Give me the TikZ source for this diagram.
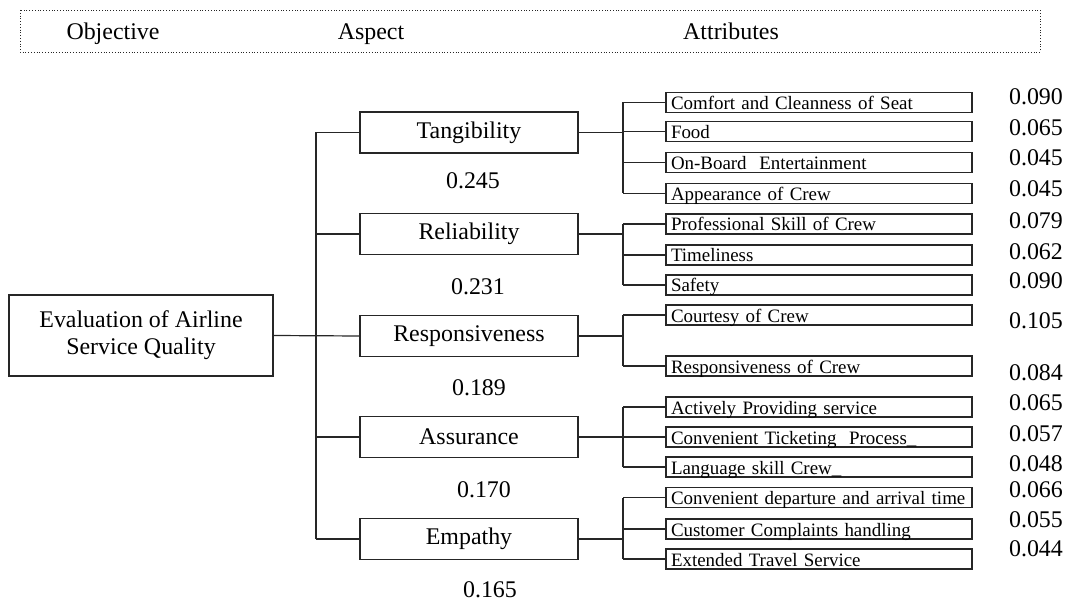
\documentclass[tikz,border=0pt]{standalone}
\usepackage{fontspec}
\setmainfont{Liberation Serif}
\usetikzlibrary{positioning, calc}

\begin{document}
\begin{tikzpicture}[x=1bp, y=-1bp, line width=1.2bp, draw=black!85,
    rootbox/.style={rectangle, draw, minimum width=264bp, minimum height=81bp,
                    align=center, font=\fontsize{24}{27}\selectfont},
    aspbox/.style={rectangle, draw, minimum width=218bp, minimum height=41bp,
                   inner sep=0pt, font=\fontsize{24}{27}\selectfont},
    attbox/.style={rectangle, draw, inner xsep=5bp, inner ysep=1.5bp, text width=296bp,
                   text height=15.5bp, text depth=1.5bp, align=left,
                   font=\fontsize{19}{20}\selectfont},
    weight/.style={inner sep=0pt, text height=16.5bp, text depth=0pt,
                   font=\fontsize{24}{27}\selectfont}
]
\useasboundingbox (0,0) rectangle (1069,600);

% header row
\draw[dotted, line width=0.8bp] (20,10) rectangle (1040,52);
\node[weight] (hobj) at (113,31) {Objective};
\node[weight] (hasp) at (371,31) {Aspect};
\node[weight] (hatt) at (731,31) {Attributes};

% objective and aspects
\node[rootbox] (root) at (141,335.5) {Evaluation of Airline\\Service Quality};
\foreach \name/\txt/\yy/\wx/\wy/\w in {tang/Tangibility/132.5/473/180/0.245,
    rel/Reliability/234/478/286/0.231, resp/Responsiveness/336/479/387/0.189,
    ass/Assurance/437/484/489/0.170, emp/Empathy/539/490/589/0.165}
{
  \node[aspbox] (\name) at (469,\yy) {\txt};
  \node[weight] (\name-w) at (\wx,\wy) {\w};
}

\coordinate (bus) at (316,0);
\draw (root.east) -- (resp.west);
\draw (tang.west -| bus) -- (emp.west -| bus);
\foreach \a in {tang,rel,ass,emp}
  \draw (\a.west -| bus) -- (\a.west);

% attributes with their weights
\coordinate (fork) at (623,0);
\foreach \i/\txt/\yy/\wy/\w in {1/Comfort and Cleanness of Seat/102.5/96/0.090,
    2/Food/131.7/127/0.065, 3/On-Board\ \ Entertainment/162.7/157/0.045,
    4/Appearance of Crew/193.5/188/0.045, 5/Professional Skill of Crew/224/220/0.079,
    6/Timeliness/255/251/0.062, 7/Safety/285/280/0.090,
    8/Courtesy of Crew/315/320/0.105, 9/Responsiveness of Crew/366/372/0.084,
    10/Actively Providing service/407/402/0.065,
    11/Convenient Ticketing\ \ Process\_/437/433/0.057,
    12/Language skill Crew\_/467/463/0.048,
    13/Convenient departure and arrival time/497.5/489/0.066,
    14/Customer Complaints handling/529/519/0.055,
    15/Extended Travel Service/559/548/0.044}
{
  \node[attbox] (att\i) at (819,\yy) {\txt};
  \node[weight] (wt\i) at (1036,\wy) {\w};
  \draw (att\i.west -| fork) -- (att\i.west);
}

\foreach \a/\f/\l in {tang/1/4, rel/5/7, resp/8/9, ass/10/12, emp/13/15}
{
  \draw (\a.east) -- (\a.east -| fork);
  \draw (att\f.west -| fork) -- (att\l.west -| fork);
}
\end{tikzpicture}
\end{document}
